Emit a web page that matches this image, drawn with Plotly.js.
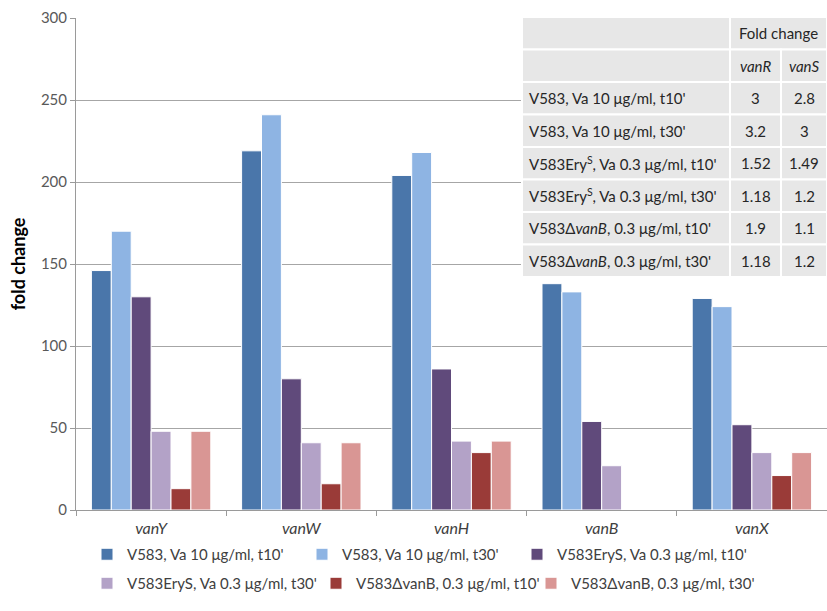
<!DOCTYPE html>
<html>
<head>
<meta charset="utf-8">
<script src="https://cdn.plot.ly/plotly-3.0.1.min.js"></script>
<style>html,body{margin:0;padding:0;background:#fff;}#chart{width:827px;height:611px;}</style>
</head>
<body>
<div id="chart"></div>
<script>
// ---- data ----
const genes = ["vanY", "vanW", "vanH", "vanB", "vanX"];
const seriesNames = [
  "V583, Va 10 μg/ml, t10'",
  "V583, Va 10 μg/ml, t30'",
  "V583EryS, Va 0.3 μg/ml, t10'",
  "V583EryS, Va 0.3 μg/ml, t30'",
  "V583ΔvanB, 0.3 μg/ml, t10'",
  "V583ΔvanB, 0.3 μg/ml, t30'"
];
const v583_t10   = [146, 219, 204, 138, 129];
const v583_t30   = [170, 241, 218, 133, 124];
const eryS_t10   = [130, 80, 86, 54, 52];
const eryS_t30   = [48, 41, 42, 27, 35];
const dvanB_t10  = [13, 16, 35, 0, 21];
const dvanB_t30  = [48, 41, 42, 0, 35];
const yTicks = [0, 50, 100, 150, 200, 250, 300];

// inset table
const tableHeader = "Fold change";
const tableCols = ["vanR", "vanS"];
const tableRows = [
  "V583, Va 10 μg/ml, t10'",
  "V583, Va 10 μg/ml, t30'",
  "V583Ery<sup>S</sup>, Va 0.3 μg/ml, t10'",
  "V583Ery<sup>S</sup>, Va 0.3 μg/ml, t30'",
  "V583Δ<i>vanB</i>, 0.3 μg/ml, t10'",
  "V583Δ<i>vanB</i>, 0.3 μg/ml, t30'"
];
const vanR = ["3", "3.2", "1.52", "1.18", "1.9", "1.18"];
const vanS = ["2.8", "3", "1.49", "1.2", "1.1", "1.2"];

// ---- styles / layout ----
const colors = ["#4A76AA", "#8EB4E3", "#604A7B", "#B3A2C7", "#9A3B38", "#D99694"];
const legendWidths = [170, 170, 230, 184, 170, 230];
const FONT = "Lato, 'Open Sans', sans-serif";
const W = 827, H = 611;
const M = {l: 76, r: 0, t: 18, b: 101};
const PW = W - M.l - M.r, PH = H - M.t - M.b;
const px2x = p => (p - M.l) / PW;
const px2y = p => (H - M.b - p) / PH;

const series = [v583_t10, v583_t30, eryS_t10, eryS_t30, dvanB_t10, dvanB_t30];
const traces = series.map((vals, i) => ({
  type: "bar",
  name: seriesNames[i],
  x: genes,
  y: vals,
  marker: {color: colors[i], line: {color: "#ffffff", width: 1}},
  legend: i < 3 ? "legend" : "legend2",
  legendwidth: legendWidths[i],
  hoverinfo: "x+y+name"
}));

// table geometry (pixels)
const tL = 522, tR = 827, c2 = 730, c3 = 781, tT = 17, rowH = 32.5;
const shapes = [];
const annotations = [];
const cellFill = "#E7E7E7";
function rect(x0, y0, x1, y1) {
  shapes.push({type: "rect", xref: "paper", yref: "paper",
    x0: px2x(x0), x1: px2x(x1), y0: px2y(y1), y1: px2y(y0),
    fillcolor: cellFill, line: {color: "#ffffff", width: 2}, layer: "above"});
}
function txt(text, x, y, align) {
  annotations.push({xref: "paper", yref: "paper", x: px2x(x), y: px2y(y),
    xanchor: align, yanchor: "middle", text: text, showarrow: false,
    font: {family: FONT, size: 15, color: "#262626"}});
}
// header row 1
rect(tL, tT, c2, tT + rowH);
rect(c2, tT, tR, tT + rowH);
txt(tableHeader, (c2 + tR) / 2, tT + rowH / 2, "center");
// header row 2
rect(tL, tT + rowH, c2, tT + 2 * rowH);
rect(c2, tT + rowH, c3, tT + 2 * rowH);
rect(c3, tT + rowH, tR, tT + 2 * rowH);
txt("<i>" + tableCols[0] + "</i>", (c2 + c3) / 2, tT + 1.5 * rowH, "center");
txt("<i>" + tableCols[1] + "</i>", (c3 + tR) / 2, tT + 1.5 * rowH, "center");
tableRows.forEach((lab, i) => {
  const y0 = tT + (i + 2) * rowH, y1 = y0 + rowH, ym = (y0 + y1) / 2;
  rect(tL, y0, c2, y1);
  rect(c2, y0, c3, y1);
  rect(c3, y0, tR, y1);
  txt(lab, tL + 5, ym, "left");
  txt(vanR[i], (c2 + c3) / 2, ym, "center");
  txt(vanS[i], (c3 + tR) / 2, ym, "center");
});

const legendCommon = {
  orientation: "h", xanchor: "left", yanchor: "top",
  font: {family: FONT, size: 15, color: "#404040"},
  bgcolor: "rgba(0,0,0,0)", traceorder: "normal", itemclick: false
};

const layout = {
  width: W, height: H,
  margin: M,
  paper_bgcolor: "#ffffff", plot_bgcolor: "#ffffff",
  font: {family: FONT, size: 15, color: "#595959"},
  barmode: "group", bargap: 0.205, bargroupgap: 0,
  showlegend: true,
  legend: Object.assign({}, legendCommon, {x: px2x(87), y: px2y(538)}),
  legend2: Object.assign({}, legendCommon, {x: px2x(87), y: px2y(567)}),
  xaxis: {
    type: "category",
    tickvals: genes,
    ticktext: genes.map(g => "<i>" + g + "</i>"),
    tickfont: {family: FONT, size: 16, color: "#404040"},
    ticklabelstandoff: 4,
    showline: true, linecolor: "#9A9A9A", linewidth: 1,
    ticks: "outside", tickson: "boundaries", ticklen: 5, tickcolor: "#9A9A9A",
    showgrid: false, zeroline: false, fixedrange: true
  },
  yaxis: {
    range: [0, 300], tickvals: yTicks,
    tickfont: {family: FONT, size: 15, color: "#595959"},
    showline: true, linecolor: "#9A9A9A", linewidth: 1,
    ticks: "outside", ticklen: 5, tickcolor: "#9A9A9A",
    showgrid: true, gridcolor: "#A6A6A6", gridwidth: 1,
    zeroline: false, fixedrange: true,
    title: {text: "<b>fold change</b>", font: {family: FONT, size: 18, color: "#000000"}, standoff: 10}
  },
  shapes: shapes,
  annotations: annotations
};

Plotly.newPlot("chart", traces, layout, {displayModeBar: false, staticPlot: true});
</script>
</body>
</html>
